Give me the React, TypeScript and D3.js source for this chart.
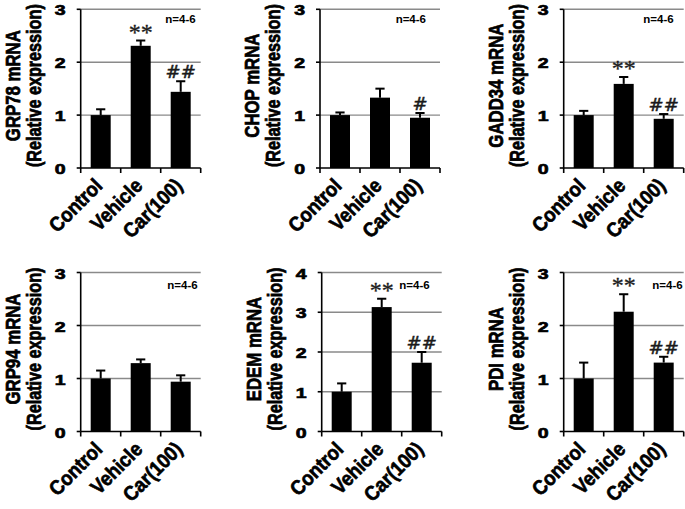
import React from "react";
import * as d3 from "d3";

const categories = ["Control", "Vehicle", "Car(100)"];

const genes = ["GRP78", "CHOP", "GADD34", "GRP94", "EDEM", "PDI"];
const grp78Means = [1.0, 2.31, 1.44];
const grp78Errs = [0.11, 0.1, 0.2];
const chopMeans = [1.0, 1.33, 0.95];
const chopErrs = [0.05, 0.17, 0.09];
const gadd34Means = [1.0, 1.59, 0.93];
const gadd34Errs = [0.08, 0.13, 0.09];
const grp94Means = [1.0, 1.29, 0.94];
const grp94Errs = [0.15, 0.07, 0.12];
const edemMeans = [1.0, 3.13, 1.73];
const edemErrs = [0.21, 0.21, 0.27];
const pdiMeans = [1.0, 2.26, 1.3];
const pdiErrs = [0.3, 0.33, 0.11];

const grp78Marks = ["", "**", "##"];
const chopMarks = ["", "", "#"];
const gadd34Marks = ["", "**", "##"];
const grp94Marks = ["", "", ""];
const edemMarks = ["", "**", "##"];
const pdiMarks = ["", "**", "##"];

const yMaxes = [3, 3, 3, 3, 4, 3];
const nLabel = "n=4-6";
const yLabelSub = "(Relative expression)";

const allMeans = [grp78Means, chopMeans, gadd34Means, grp94Means, edemMeans, pdiMeans];
const allErrs = [grp78Errs, chopErrs, gadd34Errs, grp94Errs, edemErrs, pdiErrs];
const allMarks = [grp78Marks, chopMarks, gadd34Marks, grp94Marks, edemMarks, pdiMarks];

// layout (pixel positions of each panel's plot area)
const layout = [
  { x0: 80.7, top: 9.3, bot: 168, nOff: 5 },
  { x0: 320, top: 9.3, bot: 168, nOff: 14 },
  { x0: 563.7, top: 9.3, bot: 168, nOff: 10 },
  { x0: 80.7, top: 272.5, bot: 431.5, nOff: 3 },
  { x0: 321.7, top: 272.5, bot: 431.5, nOff: 12 },
  { x0: 563.7, top: 272.5, bot: 431.5, nOff: 1 },
];
const plotW = 120;

const SANS = "'Liberation Sans', Arial, Helvetica, sans-serif";
const SERIF = "'DejaVu Sans', sans-serif";

function Panel({ idx }: { idx: number }) {
  const L = layout[idx];
  const means = allMeans[idx];
  const errs = allErrs[idx];
  const marks = allMarks[idx];
  const yMax = yMaxes[idx];
  const x = d3
    .scaleBand<string>()
    .domain(categories)
    .range([L.x0, L.x0 + plotW])
    .paddingInner(0.5)
    .paddingOuter(0.25);
  const y = d3.scaleLinear().domain([0, yMax]).range([L.bot, L.top]);
  const ticks = d3.range(0, yMax + 1);
  const x1 = L.x0 + plotW;
  const boundaries = d3.range(0, categories.length + 1).map((i) => L.x0 + (i * plotW) / categories.length);
  const cy = (L.top + L.bot) / 2 - 3;
  return (
    <g>
      {/* gridlines */}
      {ticks
        .filter((t) => t > 0)
        .map((t) => (
          <line key={"g" + t} x1={L.x0} x2={x1} y1={y(t)} y2={y(t)} stroke="#8a8a8a" strokeWidth={1.4} />
        ))}
      {/* bars */}
      {categories.map((c, i) => (
        <rect key={"b" + c} x={x(c)} y={y(means[i])} width={x.bandwidth()} height={y(0) - y(means[i])} fill="#000" />
      ))}
      {/* error bars */}
      {categories.map((c, i) => {
        const cx = (x(c) as number) + x.bandwidth() / 2;
        const yt = y(means[i] + errs[i]);
        return (
          <g key={"e" + c} stroke="#000" strokeWidth={2}>
            <line x1={cx} x2={cx} y1={y(means[i])} y2={yt} />
            <line x1={cx - 4.6} x2={cx + 4.6} y1={yt} y2={yt} />
          </g>
        );
      })}
      {/* significance marks */}
      {categories.map((c, i) => {
        const m = marks[i];
        if (!m) return null;
        const cx = (x(c) as number) + x.bandwidth() / 2;
        const yt = y(means[i] + errs[i]);
        const isStar = m.includes("*");
        return (
          <text
            key={"m" + c}
            x={cx}
            y={isStar ? yt - 1 : yt - 3}
            textAnchor="middle"
            fontFamily={isStar ? "'Liberation Serif', 'Times New Roman', serif" : SERIF}
            fontStyle={isStar ? "normal" : "oblique"}
            fontSize={isStar ? 24 : 18}
            fill="#1a1a1a"
            stroke="#1a1a1a"
            strokeWidth={isStar ? 0.3 : 0.5}
          >
            {m}
          </text>
        );
      })}
      {/* y axis */}
      <line x1={L.x0} x2={L.x0} y1={L.top} y2={L.bot} stroke="#000" strokeWidth={1.6} />
      {ticks.map((t) => (
        <g key={"t" + t}>
          <line x1={L.x0 - 4} x2={L.x0} y1={y(t)} y2={y(t)} stroke="#000" strokeWidth={1.6} />
          <text
            transform={`translate(${L.x0 - 15},${y(t) + 1}) scale(1.3,1)`}
            textAnchor="end"
            dominantBaseline="central"
            fontFamily={SANS}
            fontWeight="bold"
            fontSize={15}
            fill="#000"
            stroke="#000"
            strokeWidth={0.7}
          >
            {t}
          </text>
        </g>
      ))}
      {/* x axis */}
      <line x1={L.x0} x2={x1} y1={L.bot} y2={L.bot} stroke="#000" strokeWidth={1.6} />
      {boundaries.map((bx, i) => (
        <line key={"xt" + i} x1={bx} x2={bx} y1={L.bot} y2={L.bot + 5} stroke="#000" strokeWidth={1.6} />
      ))}
      {categories.map((c) => {
        const cx = (x(c) as number) + x.bandwidth() / 2;
        return (
          <text
            key={"c" + c}
            transform={`translate(${cx + 3},${L.bot + 19}) rotate(-45) scale(1,1.1)`}
            textAnchor="end"
            fontFamily={SANS}
            fontWeight="bold"
            fontSize={18.5}
            fill="#000"
            stroke="#000"
            strokeWidth={0.6}
          >
            {c}
          </text>
        );
      })}
      {/* y labels */}
      <text
        transform={`translate(${L.x0 - 61},${cy}) rotate(-90) scale(1,1.25)`}
        textAnchor="middle"
        fontFamily={SANS}
        fontWeight="bold"
        fontSize={16.8}
        fill="#000"
        stroke="#000"
        strokeWidth={0.6}
      >
        {genes[idx] + " mRNA"}
      </text>
      <text
        transform={`translate(${L.x0 - 40},${cy}) rotate(-90) scale(1,1.25)`}
        textAnchor="middle"
        fontFamily={SANS}
        fontWeight="bold"
        fontSize={16.2}
        fill="#000"
        stroke="#000"
        strokeWidth={0.6}
      >
        {yLabelSub}
      </text>
      {/* n label */}
      <text
        x={x1 - L.nOff}
        y={L.top + (idx < 3 ? 13.5 : 16)}
        textAnchor="end"
        fontFamily={SANS}
        fontWeight="bold"
        fontSize={11.5}
        fill="#000"
      >
        {nLabel}
      </text>
    </g>
  );
}

export default function App() {
  return (
    <svg
      width={685}
      height={509}
      viewBox="0 0 685 509"
      style={{ position: "absolute", left: 0, top: 0, background: "#fff" }}
    >
      <rect x={0} y={0} width={685} height={509} fill="#fff" />
      {genes.map((g, i) => (
        <Panel key={g} idx={i} />
      ))}
    </svg>
  );
}
